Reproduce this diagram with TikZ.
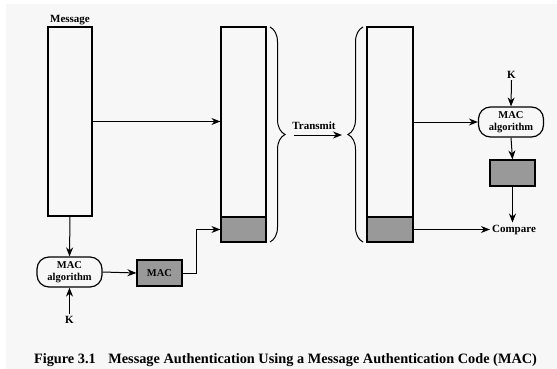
\documentclass[tikz,border=0pt]{standalone}
\usepackage{fontspec}
\setmainfont{Liberation Serif}
\usetikzlibrary{
  arrows.meta,
  decorations.pathreplacing
}
\definecolor{bggray}{RGB}{247,247,247}
\definecolor{macgray}{RGB}{153,153,153}
\tikzset{
  >={Stealth[length=9pt,width=7pt]},
  buf/.style={draw, line width=1.2pt, inner sep=0pt, minimum width=45pt},
  macfill/.style={buf, fill=macgray, minimum height=25pt},
  alg/.style={draw, line width=1.2pt, rounded corners=12pt, minimum width=65pt,
    minimum height=30pt, inner sep=0pt, align=center,
    font=\bfseries\fontsize{10.5}{12}\selectfont},
  lbl/.style={font=\bfseries\fontsize{11}{12}\selectfont, inner sep=2pt},
  link/.style={->, line width=1pt},
  bracket/.style={decorate, decoration={brace, amplitude=15pt}, line width=1pt}
}

\begin{document}
\begin{tikzpicture}[x=1pt, y=-1pt]
        \fill[white] (0,0) rectangle (557,369);
        \fill[bggray] (6,4) rectangle (557,369);
        \useasboundingbox (0,0) rectangle (557,369);
        % sender
        \node[buf, minimum width=44pt, minimum height=189pt] (msg) at (70,121.5) {};
        \node[lbl, anchor=base] (msglbl) at (70,23) {Message};
        \node[alg] (algl) at (69.5,272) {MAC\\algorithm};
        \node[lbl, anchor=base] (keyl) at (69.5,323) {K};
        \node[buf, fill=macgray, minimum height=26pt, font=\bfseries\fontsize{10.5}{12}\selectfont] (mac) at (159.5,273) {MAC};
        \node[buf, minimum height=190pt] (buf1) at (243.5,122) {};
        \node[macfill] (tag1) at (243.5,229.5) {};
        % transmit
        \draw[bracket] (270,27) -- (270,242);
        \draw[bracket] (363,242) -- (363,27);
        \node[lbl, anchor=base] (tx) at (314,129) {Transmit};
        \coordinate (txa) at (294,135);
        \coordinate (txb) at (342,135);
        % receiver
        \node[buf, minimum width=46pt, minimum height=190pt] (buf2) at (390,122) {};
        \node[macfill, minimum width=46pt] (tag2) at (390,229.5) {};
        \node[alg] (algr) at (511,122) {MAC\\algorithm};
        \node[lbl, anchor=base] (keyr) at (511.5,78) {K};
        \node[buf, fill=macgray, minimum height=26pt] (chk) at (512.5,173) {};
        \node[lbl, anchor=base] (cmp) at (514,232) {Compare};
        \draw[link] (msg.east) -- (msg.east -| buf1.west);
        \draw[link] (msg.south) -- (algl.north);
        \draw[link] (keyl.north) -- (algl.south);
        \draw[link] (algl.east) -- (mac.west);
        \draw[link] (mac.east) -- ++(14,0) |- (tag1.west);
        \draw[link] (txa) -- (txb);
        \draw[link] (buf2.east) -- (algr.west);
        \draw[link] (keyr.south) -- (algr.north);
        \draw[link] (algr.south) -- (chk.north);
        \draw[link] (chk.south) -- (chk.south |- cmp.north);
        \draw[link] (tag2.east) -- (tag2.east -| cmp.west);
        \node[font=\bfseries\fontsize{14.3}{16}\selectfont, anchor=base] (cap) at (285.5,363)
          {Figure 3.1\hspace{9pt} Message Authentication Using a Message Authentication Code (MAC)};
\end{tikzpicture}
\end{document}
